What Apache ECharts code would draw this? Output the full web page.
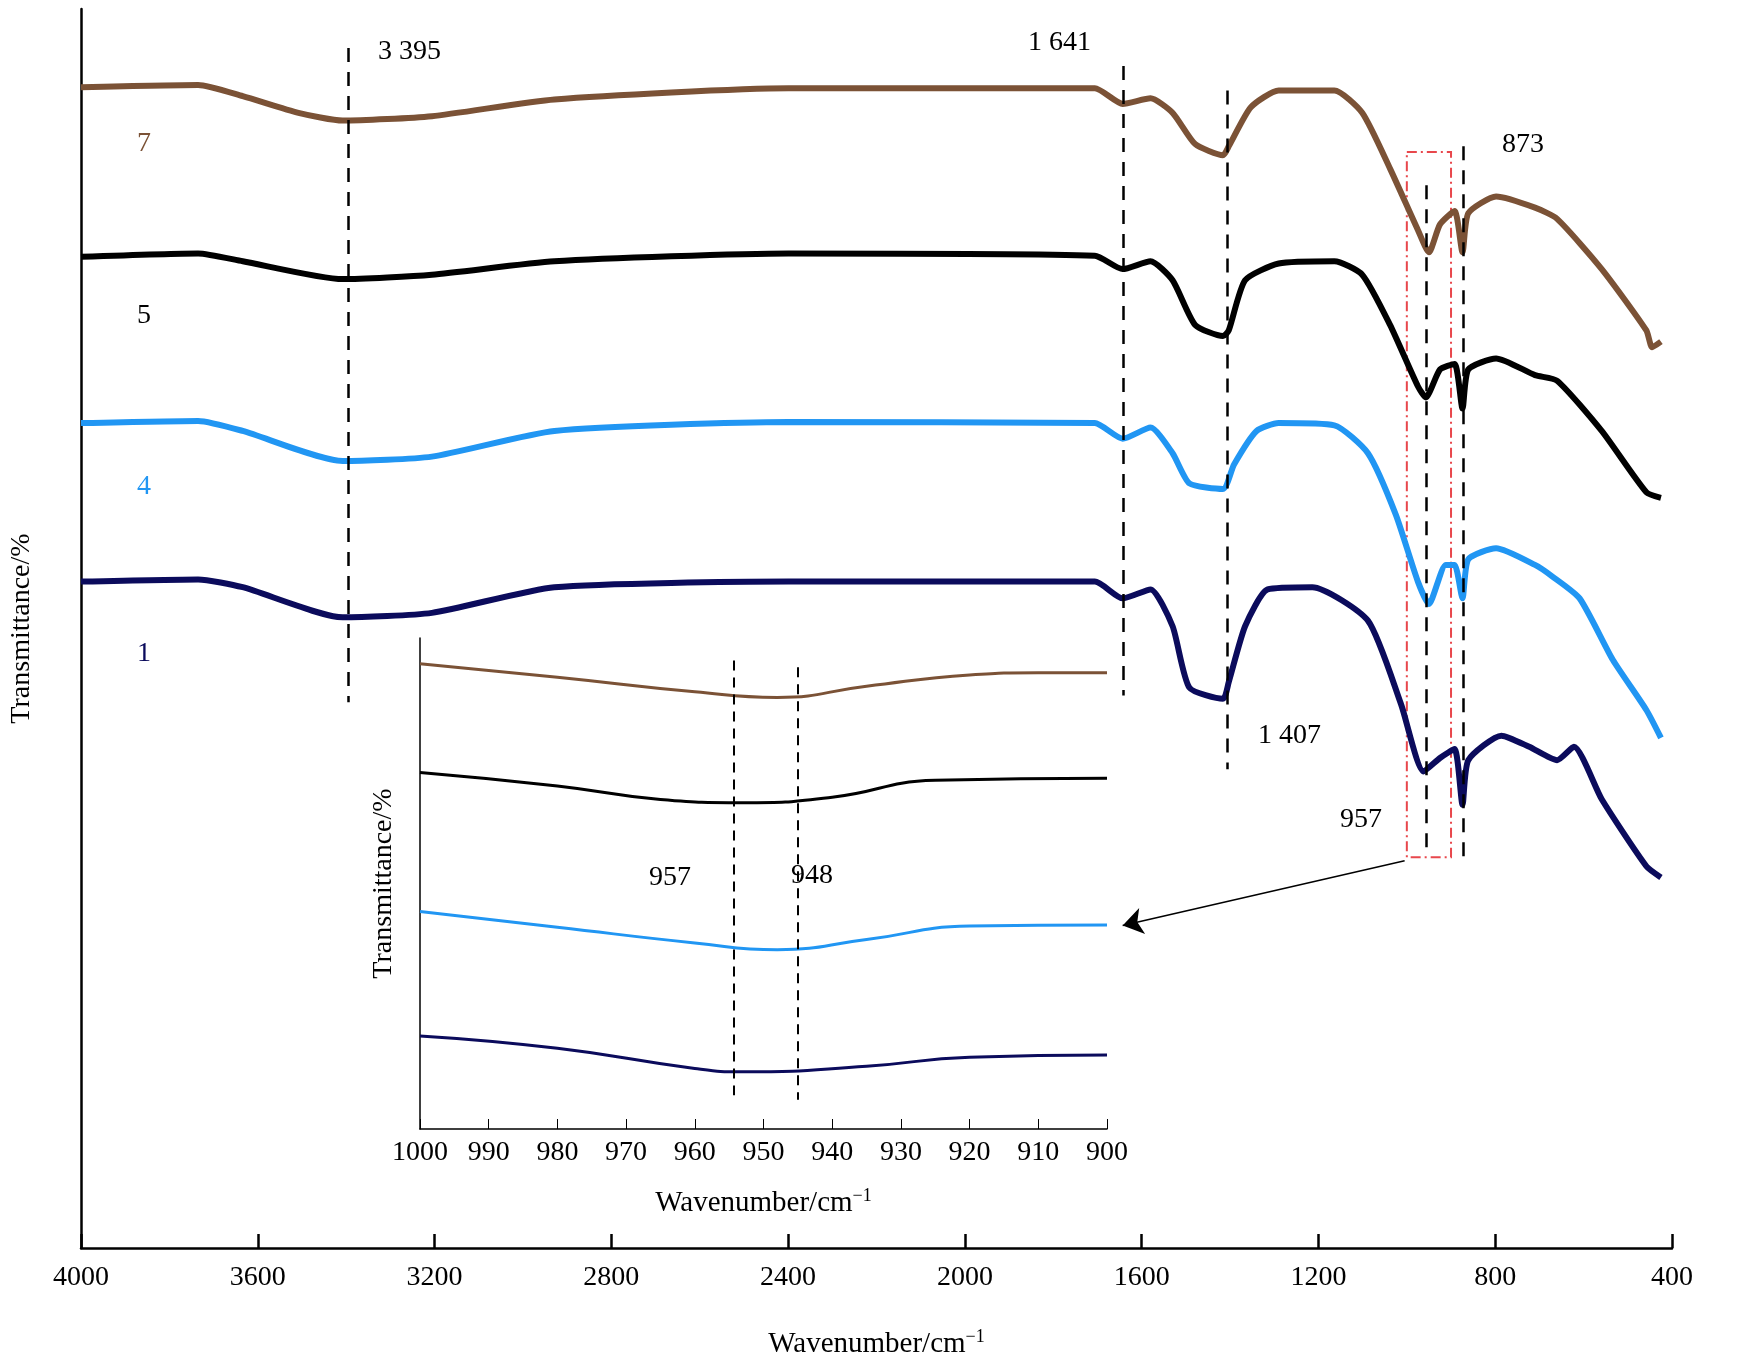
<!DOCTYPE html>
<html>
<head>
<meta charset="utf-8">
<script src="https://cdn.jsdelivr.net/npm/echarts@6/dist/echarts.min.js"></script>
<style>html,body{margin:0;padding:0;background:#fff}#main{width:1755px;height:1364px}</style>
</head>
<body>
<div id="main"></div>
<script>
// main spectra (wavenumber, transmittance offset)
var wn7 = [4000,3735,3634,3508,3408,3206,2929,2399,1706,1643,1580,1530,1479,1416,1403,1353,1290,1164,1101,1038,975,950,925,892,874,861,798,710,660,559,458,445,425];
var t7 = [104.0,104.2,103.2,101.7,101.0,101.4,102.9,103.9,103.9,102.5,103.0,101.7,98.9,97.9,98.7,102.2,103.7,103.7,101.7,96.7,91.2,89.2,91.7,92.9,89.2,92.7,94.2,93.2,92.2,87.7,82.2,80.7,81.2];
var wn5 = [4000,3735,3634,3408,3206,2929,2399,1706,1643,1580,1530,1479,1416,1403,1366,1290,1164,1101,1038,975,957,925,892,874,861,798,710,660,559,458,425];
var t5 = [88.8,89.1,88.4,86.8,87.2,88.4,89.1,88.9,87.7,88.4,86.7,82.7,81.7,82.2,86.7,88.2,88.4,87.2,82.7,77.2,76.2,78.7,79.2,75.2,78.7,79.7,78.2,77.7,73.2,67.7,67.2];
var wn4 = [4000,3735,3634,3408,3206,2929,2399,1706,1643,1580,1530,1492,1416,1391,1340,1290,1164,1088,1025,975,950,912,892,874,861,798,710,672,609,534,458,425];
var t4 = [73.9,74.1,73.2,70.5,70.9,73.2,74.0,73.9,72.5,73.5,71.2,68.5,68.0,70.2,73.2,73.9,73.7,71.2,65.7,59.7,57.7,61.2,61.2,58.2,61.7,62.7,61.2,60.2,58.2,52.7,48.2,45.7];
var wn1 = [4000,3735,3634,3408,3206,2929,2399,1706,1643,1580,1530,1492,1416,1403,1366,1315,1214,1088,1013,962,925,892,874,861,786,723,660,622,559,458,425];
var t1 = [59.7,59.9,59.2,56.5,56.9,59.2,59.7,59.7,58.2,59.0,55.7,50.2,49.2,50.7,55.7,59.0,59.2,56.2,48.7,42.7,43.9,44.7,39.7,43.7,45.9,44.9,43.7,44.9,40.2,34.2,33.2];

// inset 1000-900
var wnIn7 = [1000,980,960,948,935,920,910,900];
var tIn7 = [41.5,40.3,39.0,38.5,39.5,40.5,40.7,40.7];
var wnIn5 = [1000,980,965,953,940,925,900];
var tIn5 = [31.8,30.6,29.4,29.1,29.6,31.1,31.3];
var wnIn4 = [1000,980,960,948,935,920,900];
var tIn4 = [19.4,18.0,16.6,16.0,16.9,18.1,18.2];
var wnIn1 = [1000,980,960,953,935,920,900];
var tIn1 = [8.3,7.2,5.4,5.1,5.6,6.4,6.6];

var colors = {s7: '#7b5236', s5: '#000000', s4: '#2196f3', s1: '#0b0b5c'};
var font = 'Liberation Serif';

function pairs(x, y) {
  return x.map(function (v, i) { return [v, y[i]]; });
}
function vline(x, y1, y2) {
  return [{coord: [x, y1]}, {coord: [x, y2]}];
}
function plain(v) { return String(v); }

var chart = echarts.init(document.getElementById('main'));

var option = {
  backgroundColor: '#fff',
  animation: false,
  grid: [
    {left: 73, right: 83, top: 9, bottom: 116},
    {left: 420, right: 648, top: 638, bottom: 235}
  ],
  xAxis: [{
    type: 'value', gridIndex: 0, inverse: true, min: 400, max: 4000, interval: 400,
    axisLine: {lineStyle: {color: '#000', width: 2.5}},
    axisTick: {inside: true, length: 14, lineStyle: {color: '#000', width: 2.5}},
    axisLabel: {color: '#000', fontSize: 28, fontFamily: font, margin: 16, formatter: plain},
    splitLine: {show: false},
    name: 'Wavenumber/cm{s|\u22121}', nameLocation: 'middle', nameGap: 80,
    nameTextStyle: {color: '#000', fontSize: 29, fontFamily: font, rich: {s: {fontSize: 18, verticalAlign: 'top', padding: [0, 0, 14, 0], fontFamily: font}}}
  }, {
    type: 'value', gridIndex: 1, inverse: true, min: 900, max: 1000, interval: 10,
    axisLine: {lineStyle: {color: '#000', width: 1.5}},
    axisTick: {inside: true, length: 10, lineStyle: {color: '#000', width: 1}},
    axisLabel: {color: '#000', fontSize: 28, fontFamily: font, margin: 10, formatter: plain},
    splitLine: {show: false},
    name: 'Wavenumber/cm{s|\u22121}', nameLocation: 'middle', nameGap: 58,
    nameTextStyle: {color: '#000', fontSize: 29, fontFamily: font, rich: {s: {fontSize: 18, verticalAlign: 'top', padding: [0, 0, 14, 0], fontFamily: font}}}
  }],
  yAxis: [{
    type: 'value', gridIndex: 0, min: 0, max: 111,
    axisLine: {show: true, lineStyle: {color: '#000', width: 2.5}},
    axisTick: {show: false}, axisLabel: {show: false}, splitLine: {show: false},
    name: 'Transmittance/%', nameLocation: 'middle', nameGap: 45,
    nameTextStyle: {color: '#000', fontSize: 28, fontFamily: font}
  }, {
    type: 'value', gridIndex: 1, min: 0, max: 43.8,
    axisLine: {show: true, lineStyle: {color: '#000', width: 1.5}},
    axisTick: {show: false}, axisLabel: {show: false}, splitLine: {show: false},
    name: 'Transmittance/%', nameLocation: 'middle', nameGap: 22,
    nameTextStyle: {color: '#000', fontSize: 28, fontFamily: font}
  }],
  series: [
    {type: 'line', xAxisIndex: 0, yAxisIndex: 0, data: pairs(wn7, t7), smooth: 0.2, symbol: 'none', lineStyle: {color: colors.s7, width: 6}},
    {type: 'line', xAxisIndex: 0, yAxisIndex: 0, data: pairs(wn5, t5), smooth: 0.2, symbol: 'none', lineStyle: {color: colors.s5, width: 6}},
    {type: 'line', xAxisIndex: 0, yAxisIndex: 0, data: pairs(wn4, t4), smooth: 0.2, symbol: 'none', lineStyle: {color: colors.s4, width: 6}},
    {type: 'line', xAxisIndex: 0, yAxisIndex: 0, data: pairs(wn1, t1), smooth: 0.2, symbol: 'none', lineStyle: {color: colors.s1, width: 6},
      markLine: {
        silent: true, symbol: 'none', label: {show: false},
        lineStyle: {color: '#000', type: [14, 10], width: 2.5},
        data: [vline(3395, 107.5, 48.9), vline(1641, 105.9, 49.5), vline(1407, 103.7, 42.9), vline(957, 95.2, 35.7), vline(873, 98.7, 34.7)]
      },
      markArea: {
        silent: true, label: {show: false},
        itemStyle: {color: 'rgba(0,0,0,0)', borderColor: '#e8474c', borderWidth: 2, borderType: [10, 4, 2, 4]},
        data: [[{coord: [1000, 98.2]}, {coord: [900, 35.0]}]]
      }
    },
    {type: 'line', xAxisIndex: 0, yAxisIndex: 0, data: [], symbol: 'none',
      markLine: {
        silent: true, symbol: ['none', 'arrow'], symbolSize: 20, label: {show: false},
        lineStyle: {color: '#000', type: 'solid', width: 1.5},
        data: [[{coord: [1005, 34.7]}, {coord: [1643, 28.9]}]]
      }
    },
    {type: 'line', xAxisIndex: 1, yAxisIndex: 1, data: pairs(wnIn7, tIn7), smooth: true, symbol: 'none', lineStyle: {color: colors.s7, width: 3}},
    {type: 'line', xAxisIndex: 1, yAxisIndex: 1, data: pairs(wnIn5, tIn5), smooth: true, symbol: 'none', lineStyle: {color: colors.s5, width: 3}},
    {type: 'line', xAxisIndex: 1, yAxisIndex: 1, data: pairs(wnIn4, tIn4), smooth: true, symbol: 'none', lineStyle: {color: colors.s4, width: 3}},
    {type: 'line', xAxisIndex: 1, yAxisIndex: 1, data: pairs(wnIn1, tIn1), smooth: true, symbol: 'none', lineStyle: {color: colors.s1, width: 3},
      markLine: {
        silent: true, symbol: 'none', label: {show: false},
        lineStyle: {color: '#000', type: [10, 7], width: 2},
        data: [vline(954.3, 41.8, 3.0), vline(945, 41.2, 2.6)]
      }
    }
  ],
  graphic: [
    {type: 'text', left: 378, top: 38, style: {text: '3 395', font: '28px "Liberation Serif"', fill: '#000'}},
    {type: 'text', left: 1028, top: 29, style: {text: '1 641', font: '28px "Liberation Serif"', fill: '#000'}},
    {type: 'text', left: 1502, top: 131, style: {text: '873', font: '28px "Liberation Serif"', fill: '#000'}},
    {type: 'text', left: 1258, top: 722, style: {text: '1 407', font: '28px "Liberation Serif"', fill: '#000'}},
    {type: 'text', left: 1340, top: 806, style: {text: '957', font: '28px "Liberation Serif"', fill: '#000'}},
    {type: 'text', left: 649, top: 864, style: {text: '957', font: '28px "Liberation Serif"', fill: '#000'}},
    {type: 'text', left: 791, top: 862, style: {text: '948', font: '28px "Liberation Serif"', fill: '#000'}},
    {type: 'text', left: 137, top: 130, style: {text: '7', font: '28px "Liberation Serif"', fill: colors.s7}},
    {type: 'text', left: 137, top: 302, style: {text: '5', font: '28px "Liberation Serif"', fill: colors.s5}},
    {type: 'text', left: 137, top: 473, style: {text: '4', font: '28px "Liberation Serif"', fill: colors.s4}},
    {type: 'text', left: 137, top: 640, style: {text: '1', font: '28px "Liberation Serif"', fill: colors.s1}}
  ]
};

chart.setOption(option);
</script>
</body>
</html>
